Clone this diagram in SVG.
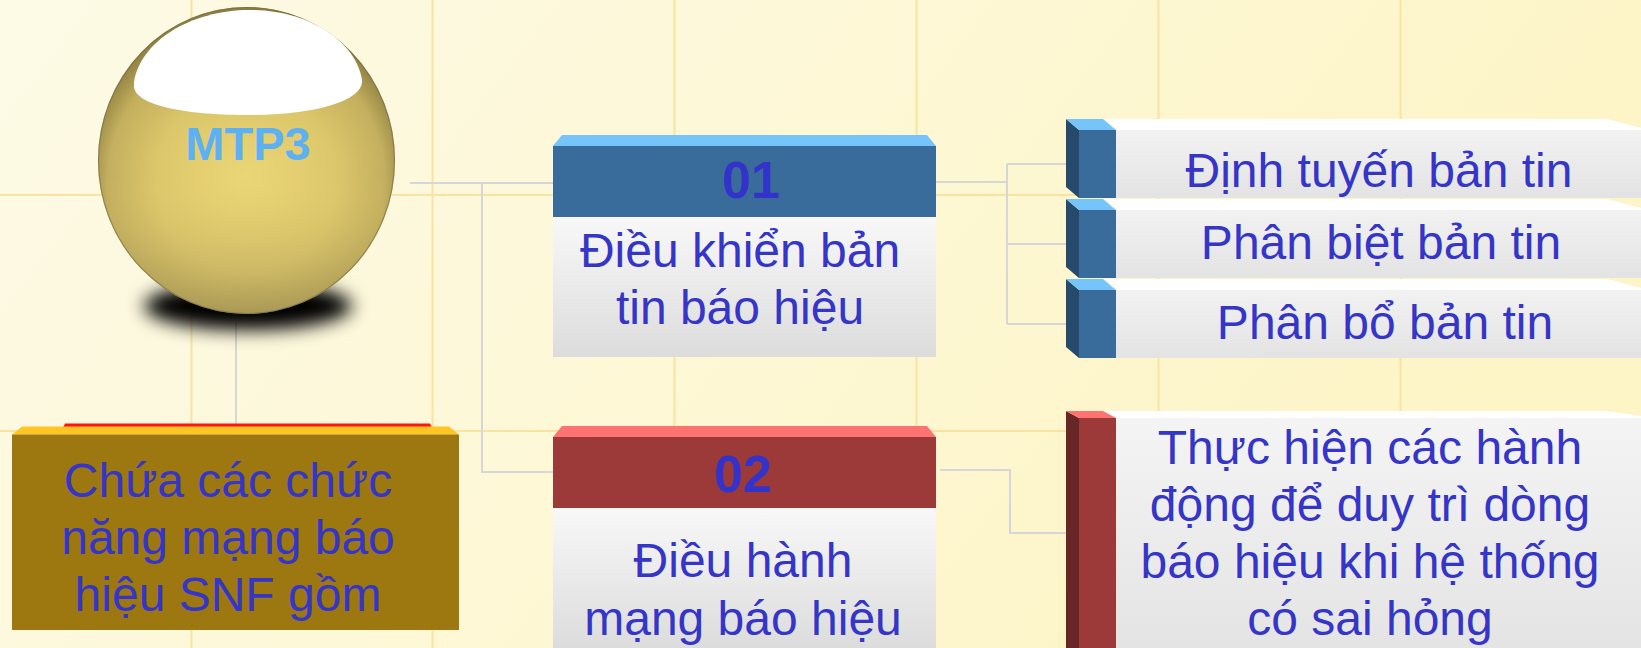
<svg xmlns="http://www.w3.org/2000/svg" width="1641" height="648" viewBox="0 0 1641 648">
  <defs>
    <linearGradient id="bg" x1="0" y1="0" x2="1" y2="0.3">
      <stop offset="0" stop-color="#FDFAE6"/>
      <stop offset="1" stop-color="#FDF5C6"/>
    </linearGradient>
    <radialGradient id="ball" cx="0.5" cy="0.58" r="0.55" fx="0.5" fy="0.55">
      <stop offset="0" stop-color="#EBD676"/>
      <stop offset="0.55" stop-color="#DDC76C"/>
      <stop offset="0.85" stop-color="#C2AE5E"/>
      <stop offset="1" stop-color="#8E7E42"/>
    </radialGradient>
    <linearGradient id="ballShade" x1="0" y1="0" x2="0" y2="1">
      <stop offset="0" stop-color="#8A7A3A" stop-opacity="0.35"/>
      <stop offset="0.55" stop-color="#F0DA70" stop-opacity="0"/>
      <stop offset="1" stop-color="#6E6440" stop-opacity="0.35"/>
    </linearGradient>
    <linearGradient id="card" x1="0" y1="0" x2="0" y2="1">
      <stop offset="0" stop-color="#F8F8F8"/>
      <stop offset="1" stop-color="#DCDCDC"/>
    </linearGradient>
    <linearGradient id="bar" x1="0" y1="0" x2="0" y2="1">
      <stop offset="0" stop-color="#F2F2F2"/>
      <stop offset="1" stop-color="#E3E3E3"/>
    </linearGradient>
    <linearGradient id="barTall" x1="0" y1="0" x2="0" y2="1">
      <stop offset="0" stop-color="#F4F4F4"/>
      <stop offset="1" stop-color="#E4E4E4"/>
    </linearGradient>
    <filter id="soft" x="-40%" y="-100%" width="180%" height="300%">
      <feGaussianBlur stdDeviation="9"/>
    </filter>
  </defs>
  <style>
    .grid line { stroke: #F8E3A0; stroke-width: 2; }
    .wire { fill: none; stroke: #D6D6D6; stroke-width: 2; }
    .t { font-family: "Liberation Sans", Arial, sans-serif; font-size: 48px; fill: #3535C8; text-anchor: middle; }
    .num { font-family: "Liberation Sans", Arial, sans-serif; font-size: 52px; font-weight: bold; fill: #3333CC; text-anchor: middle; }
    .blueSide { fill: #264A6B; }
    .blueTop { fill: #75C5FB; }
    .blueFace { fill: #396C9A; }
    .redSide { fill: #672727; }
    .redTop { fill: #FF7272; }
    .redFace { fill: #9C3A3A; }
    .barTop { fill: #FFFFFF; }
  </style>

  <!-- backdrop -->
  <rect x="0" y="0" width="1641" height="648" fill="url(#bg)"/>
  <g class="grid">
    <line x1="191.5" y1="0" x2="191.5" y2="648"/>
    <line x1="432.5" y1="0" x2="432.5" y2="648"/>
    <line x1="674.5" y1="0" x2="674.5" y2="648"/>
    <line x1="916.5" y1="0" x2="916.5" y2="648"/>
    <line x1="1158.5" y1="0" x2="1158.5" y2="648"/>
    <line x1="1400.5" y1="0" x2="1400.5" y2="648"/>
    <line x1="0" y1="195" x2="1641" y2="195"/>
    <line x1="0" y1="431" x2="1641" y2="431"/>
  </g>

  <!-- connectors -->
  <g id="connectors">
    <path class="wire" d="M410,183 H553"/>
    <path class="wire" d="M482,183 V472 H553"/>
    <path class="wire" d="M236,322 V424"/>
    <path class="wire" d="M936,182 H1007"/>
    <path class="wire" d="M1007,164 V324"/>
    <path class="wire" d="M1007,164 H1079"/>
    <path class="wire" d="M1007,244 H1079"/>
    <path class="wire" d="M1007,324 H1079"/>
    <path class="wire" d="M940,470 H1010 V533 H1079"/>
  </g>

  <!-- MTP3 ball -->
  <g id="mtp3">
    <ellipse cx="248" cy="306" rx="104" ry="24" fill="#000" filter="url(#soft)"/>
    <ellipse cx="246.5" cy="160.5" rx="148.5" ry="153.5" fill="url(#ball)"/>
    <ellipse cx="246.5" cy="160.5" rx="148.5" ry="153.5" fill="url(#ballShade)"/>
    <ellipse cx="246.5" cy="160.5" rx="148" ry="153" fill="none" stroke="#6F6A4A" stroke-width="1.2" stroke-opacity="0.6"/>
    <path d="M134,82 C140,42 190,10 250,10 C310,10 356,42 362,80 C364,100 318,115 248,115 C180,115 134,104 134,86 Z" fill="#FFFFFF"/>
    <text x="248" y="160" font-family="Liberation Sans, Arial, sans-serif" font-size="47" font-weight="bold" fill="#5DB0F2" text-anchor="middle">MTP3</text>
  </g>

  <!-- SNF box -->
  <g id="snf">
    <polygon points="65,423.5 430,423.5 432,427.5 63,427.5" fill="#FF1414"/>
    <polygon points="22,426.5 449,426.5 459,434.5 12,434.5" fill="#FFC524"/>
    <rect x="12" y="434.5" width="447" height="195.5" fill="#9D7710"/>
    <text class="t" x="228" y="497">Chứa các chức</text>
    <text class="t" x="228" y="554">năng mạng báo</text>
    <text class="t" x="228" y="611">hiệu SNF gồm</text>
  </g>

  <!-- 01 card -->
  <g id="card01">
    <polygon class="blueTop" points="562,135 927,135 936,146 553,146"/>
    <rect class="blueFace" x="553" y="146" width="383" height="71"/>
    <rect x="553" y="217" width="383" height="140" fill="url(#card)"/>
    <text class="num" x="751" y="198">01</text>
    <text class="t" x="740" y="267">Điều khiển bản</text>
    <text class="t" x="740" y="324">tin báo hiệu</text>
  </g>

  <!-- 02 card -->
  <g id="card02">
    <polygon class="redTop" points="562,426 927,426 936,437 553,437"/>
    <rect class="redFace" x="553" y="437" width="383" height="71"/>
    <rect x="553" y="508" width="383" height="140" fill="url(#card)"/>
    <text class="num" x="743" y="492">02</text>
    <text class="t" x="743" y="577">Điều hành</text>
    <text class="t" x="743" y="635">mạng báo hiệu</text>
  </g>

  <!-- blue tabs -->
  <g id="item1">
    <polygon class="barTop" points="1103,119 1607,119 1641,128 1641,130 1116,130"/>
    <rect x="1116" y="130" width="525" height="68" fill="url(#bar)"/>
    <polygon class="blueSide" points="1066,119 1079,130 1079,198 1066,187"/>
    <polygon class="blueTop" points="1066,119 1103,119 1116,130 1079,130"/>
    <rect class="blueFace" x="1079" y="130" width="37" height="68"/>
    <text class="t" x="1379" y="187">Định tuyến bản tin</text>
  </g>
  <g id="item2">
    <polygon class="barTop" points="1103,199 1607,199 1641,208 1641,210 1116,210"/>
    <rect x="1116" y="210" width="525" height="68" fill="url(#bar)"/>
    <polygon class="blueSide" points="1066,199 1079,210 1079,278 1066,267"/>
    <polygon class="blueTop" points="1066,199 1103,199 1116,210 1079,210"/>
    <rect class="blueFace" x="1079" y="210" width="37" height="68"/>
    <text class="t" x="1381" y="259">Phân biệt bản tin</text>
  </g>
  <g id="item3">
    <polygon class="barTop" points="1103,279 1607,279 1641,288 1641,290 1116,290"/>
    <rect x="1116" y="290" width="525" height="68" fill="url(#bar)"/>
    <polygon class="blueSide" points="1066,279 1079,290 1079,358 1066,347"/>
    <polygon class="blueTop" points="1066,279 1103,279 1116,290 1079,290"/>
    <rect class="blueFace" x="1079" y="290" width="37" height="68"/>
    <text class="t" x="1385" y="339">Phân bổ bản tin</text>
  </g>

  <!-- red tab -->
  <g id="item4">
    <polygon class="barTop" points="1103,411 1607,411 1641,416 1641,418 1116,418"/>
    <rect x="1116" y="418" width="525" height="230" fill="url(#barTall)"/>
    <polygon class="redSide" points="1066,411 1079,418 1079,648 1066,648"/>
    <polygon class="redTop" points="1066,411 1103,411 1116,418 1079,418"/>
    <rect class="redFace" x="1079" y="418" width="37" height="230"/>
    <text class="t" x="1370" y="464">Thực hiện các hành</text>
    <text class="t" x="1370" y="521">động để duy trì dòng</text>
    <text class="t" x="1370" y="578">báo hiệu khi hệ thống</text>
    <text class="t" x="1370" y="635">có sai hỏng</text>
  </g>
</svg>
